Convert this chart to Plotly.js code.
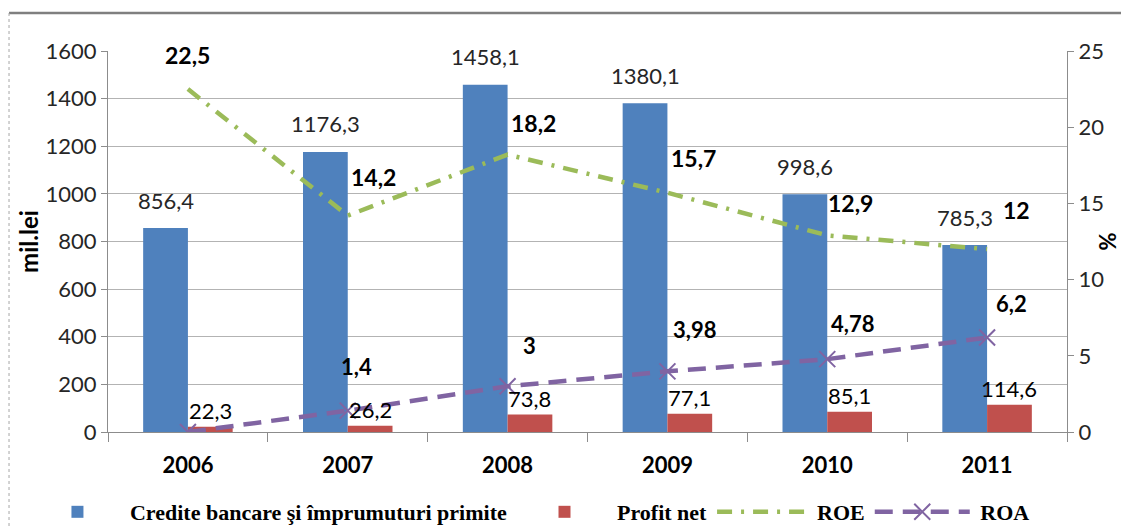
<!DOCTYPE html>
<html>
<head>
<meta charset="utf-8">
<script src="https://cdn.plot.ly/plotly-3.0.1.min.js"></script>
<style>
  html, body { margin: 0; padding: 0; background: #ffffff; }
  #chart { width: 1121px; height: 529px; }
</style>
</head>
<body>
<div id="chart"></div>
<script>
// Credite bancare, profit net (mil. lei) and ROE / ROA (%), 2006-2011
const years   = ['2006', '2007', '2008', '2009', '2010', '2011'];
const credite = [856.4, 1176.3, 1458.1, 1380.1, 998.6, 785.3];
const profit  = [22.3, 26.2, 73.8, 77.1, 85.1, 114.6];
const roe     = [22.5, 14.2, 18.2, 15.7, 12.9, 12];
const roa     = [0, 1.4, 3, 3.98, 4.78, 6.2];
const roaLabelled = [false, true, true, true, true, true];

const names = {
  credite: 'Credite bancare şi împrumuturi primite',
  profit: 'Profit net',
  roe: 'ROE',
  roa: ' ROA'
};

const BLUE = '#4F81BD', RED = '#C0504D', GREEN = '#9BBB59', PURPLE = '#8064A2';
const fmt = v => String(v).replace('.', ',');

const traces = [
  { type: 'bar', name: names.credite, x: years, y: credite,
    marker: { color: BLUE }, yaxis: 'y', hoverinfo: 'x+y' },
  { type: 'bar', name: names.profit, x: years, y: profit,
    marker: { color: RED }, yaxis: 'y', hoverinfo: 'x+y' },
  { type: 'scatter', mode: 'lines', name: names.roe, x: years, y: roe, yaxis: 'y2',
    line: { color: GREEN, width: 4.5, dash: '15px,9px,3px,9px' } },
  { type: 'scatter', mode: 'lines+markers', name: names.roa, x: years, y: roa, yaxis: 'y2',
    line: { color: PURPLE, width: 4.5, dash: '18px,10px' },
    marker: { symbol: 'x-thin', size: 16, color: PURPLE, line: { color: PURPLE, width: 2 } } }
];

// value labels
const half = (1 - 0.44) / 4;            // half a bar width, in category units
const roeShift = [[0, 34], [26, 39], [26, 32], [26, 35], [23, 32], [29, 39]];
const roaShift = [[0, 0], [9, 44], [22, 41], [27, 42], [25, 36], [24, 34]];
const annotations = [];
const valueFont = { family: 'Lato, sans-serif', size: 22, color: '#262626' };
const boldFont = { family: 'Lato, sans-serif', size: 23, color: '#000000', weight: 'bold' };

credite.forEach((v, i) => annotations.push({
  x: i - half, y: v, xref: 'x', yref: 'y', text: fmt(v), showarrow: false,
  yanchor: 'middle', yshift: 28, font: valueFont
}));
profit.forEach((v, i) => annotations.push({
  x: i + half, y: v, xref: 'x', yref: 'y', text: fmt(v), showarrow: false,
  yanchor: 'middle', yshift: 16, font: { ...valueFont, color: '#000000' }
}));
roe.forEach((v, i) => annotations.push({
  x: i, y: v, xref: 'x', yref: 'y2', text: fmt(v), showarrow: false,
  yanchor: 'middle', xshift: roeShift[i][0], yshift: roeShift[i][1], font: boldFont
}));
roa.forEach((v, i) => {
  if (!roaLabelled[i]) return;
  annotations.push({
    x: i, y: v, xref: 'x', yref: 'y2', text: fmt(v), showarrow: false,
    yanchor: 'middle', xshift: roaShift[i][0], yshift: roaShift[i][1], font: { ...boldFont, size: 22 }
  });
});

const layout = {
  width: 1121, height: 529,
  margin: { l: 108, r: 54, t: 51, b: 97, pad: 0, autoexpand: false },
  paper_bgcolor: '#ffffff', plot_bgcolor: '#ffffff',
  barmode: 'group', bargap: 0.44, bargroupgap: 0,
  showlegend: true,
  font: { family: 'Lato, sans-serif', color: '#222222' },
  xaxis: {
    type: 'category', automargin: false,
    tickfont: { family: 'Lato, sans-serif', size: 22, color: '#000000', weight: 'bold' },
    ticklabelstandoff: 14,
    showline: true, linecolor: '#8c8c8c', linewidth: 1,
    ticks: 'outside', tickson: 'boundaries', ticklen: 9, tickcolor: '#8c8c8c',
    showgrid: false, zeroline: false
  },
  yaxis: {
    range: [0, 1600], dtick: 200, tick0: 0, automargin: false,
    tickfont: { family: 'Lato, sans-serif', size: 22, color: '#262626' },
    showline: true, linecolor: '#8c8c8c', linewidth: 1,
    ticks: 'outside', ticklen: 6, tickcolor: '#8c8c8c',
    showgrid: true, gridcolor: '#b3b3b3', gridwidth: 1, zeroline: false,
    title: { text: 'mil.lei', font: { family: 'Lato, sans-serif', size: 24, color: '#000000', weight: 'bold' }, standoff: 0 }
  },
  yaxis2: {
    overlaying: 'y', side: 'right', automargin: false,
    range: [0, 25], dtick: 5, tick0: 0,
    tickfont: { family: 'Lato, sans-serif', size: 22, color: '#262626' },
    showline: true, linecolor: '#8c8c8c', linewidth: 1,
    ticks: 'outside', ticklen: 6, tickcolor: '#8c8c8c',
    showgrid: false, zeroline: false,
    title: { text: '%', font: { family: 'Lato, sans-serif', size: 22, color: '#000000', weight: 'bold' }, standoff: 0 }
  },
  legend: {
    orientation: 'h', x: -0.0866, xanchor: 'left', y: -0.21, yanchor: 'middle',
    font: { family: '"Liberation Serif", serif', size: 22, color: '#000000', weight: 'bold' },
    itemwidth: 95, traceorder: 'normal', bgcolor: 'rgba(0,0,0,0)'
  },
  annotations: annotations,
  shapes: [
    { type: 'line', xref: 'paper', yref: 'paper', x0: -0.1032, x1: 1.08, y0: 1.0997, y1: 1.0997,
      line: { color: '#7f7f7f', width: 2.5 } },
    { type: 'line', xref: 'paper', yref: 'paper', x0: -0.1032, x1: -0.1032, y0: 1.0997, y1: -0.28,
      line: { color: '#a6a6a6', width: 1, dash: 'dot' } }
  ]
};

Plotly.newPlot('chart', traces, layout, { displayModeBar: false, responsive: false });
</script>
</body>
</html>
